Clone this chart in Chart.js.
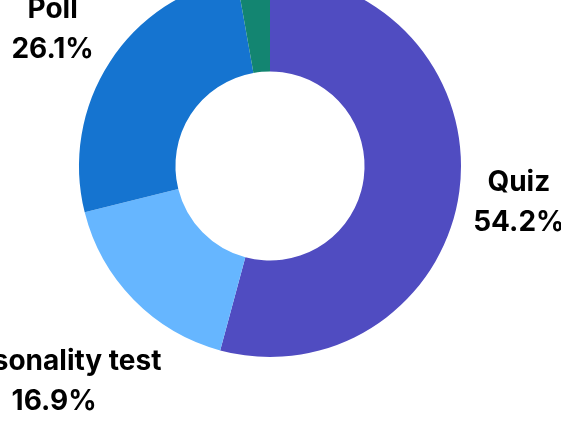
<!DOCTYPE html>
<html>
<head>
<meta charset="utf-8">
<script src="https://cdn.jsdelivr.net/npm/chart.js@4.4.0/dist/chart.umd.min.js"></script>
<style>
  html, body { margin: 0; padding: 0; background: #fff; overflow: hidden; }
  body { width: 561px; height: 428px; position: relative; }
  #wrap { position: absolute; left: -30px; top: -84px; width: 600px; height: 500px; }
</style>
</head>
<body>
<div id="wrap"><canvas id="chart"></canvas></div>
<script>
// --- data ---
const categories = ['Quiz', 'Personality test', 'Poll', 'Other'];
const shares = [54.2, 16.9, 26.1, 2.8];
const colors = ['#504cc1', '#66b6ff', '#1574d0', '#138571'];

// --- draw the name + percent outside each slice ---
const outsideLabels = {
    id: 'outsideLabels',
    afterDraw(chart) {
        const ctx = chart.ctx;
        const meta = chart.getDatasetMeta(0);
        const fontSize = 28;
        const lineHeight = 40;
        const gap = 12;
        const baselineShift = 4; // text sits a little low in the original

        ctx.save();
        ctx.font = `bold ${fontSize}px Inter, sans-serif`;
        ctx.fillStyle = '#000';
        ctx.textAlign = 'center';
        ctx.textBaseline = 'middle';

        meta.data.forEach((arc, i) => {
            const p = arc.getProps(['x', 'y', 'startAngle', 'endAngle', 'outerRadius'], true);
            const mid = (p.startAngle + p.endAngle) / 2;
            const dx = Math.cos(mid), dy = Math.sin(mid);
            const lines = [categories[i], shares[i].toFixed(1) + '%'];
            const w = Math.max(...lines.map(l => ctx.measureText(l).width));
            const h = lines.length * lineHeight;

            // push the box out along the mid angle until it clears the ring
            let d = p.outerRadius;
            for (; d < p.outerRadius + 400; d += 0.5) {
                const cx = dx * d, cy = dy * d;
                const nx = Math.max(cx - w / 2, Math.min(0, cx + w / 2));
                const ny = Math.max(cy - h / 2, Math.min(0, cy + h / 2));
                if (Math.hypot(nx, ny) >= p.outerRadius + gap) break;
            }
            const x = p.x + dx * d;
            const y = p.y + dy * d + baselineShift;
            lines.forEach((l, k) => {
                ctx.fillText(l, x, y + (k - (lines.length - 1) / 2) * lineHeight);
            });
        });
        ctx.restore();
    }
};

new Chart(document.getElementById('chart'), {
    type: 'doughnut',
    data: {
        labels: categories,
        datasets: [{
            data: shares,
            backgroundColor: colors,
            borderWidth: 0
        }]
    },
    options: {
        responsive: true,
        maintainAspectRatio: false,
        animation: false,
        cutout: '49.5%',
        layout: { padding: { left: 109, right: 109, top: 59, bottom: 59 } },
        plugins: {
            legend: { display: false },
            tooltip: { enabled: false }
        }
    },
    plugins: [outsideLabels]
});
</script>
</body>
</html>
